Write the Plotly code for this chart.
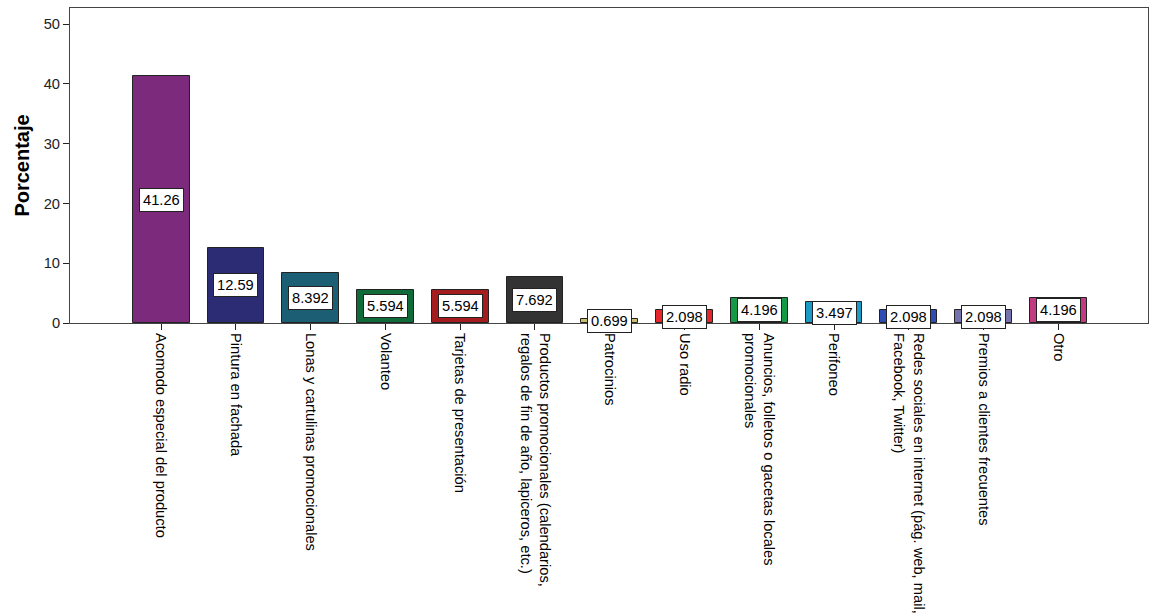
import plotly.graph_objects as go

categories = [
    "Acomodo especial del producto",
    "Pintura en fachada",
    "Lonas y cartulinas promocionales",
    "Volanteo",
    "Tarjetas de presentación",
    "Productos promocionales (calendarios,<br>regalos de fin de año, lapiceros, etc.)",
    "Patrocinios",
    "Uso radio",
    "Anuncios, folletos o gacetas locales<br>promocionales",
    "Perifoneo",
    "Redes sociales en internet (pág. web, mail,<br>Facebook, Twitter)",
    "Premios a clientes frecuentes",
    "Otro",
]
values = [41.26, 12.59, 8.392, 5.594, 5.594, 7.692, 0.699, 2.098, 4.196, 3.497, 2.098, 2.098, 4.196]
value_labels = ["41.26", "12.59", "8.392", "5.594", "5.594", "7.692", "0.699", "2.098", "4.196", "3.497", "2.098", "2.098", "4.196"]
colors = ["#7B2A7C", "#2B2C74", "#1C5F75", "#0F6B37", "#A51C1F", "#333333", "#C8BE6C",
          "#E5262A", "#149A44", "#1C9AC6", "#2F4EB3", "#7473AD", "#C13B80"]
y_ticks = [0, 10, 20, 30, 40, 50]

x = list(range(len(categories)))
FONT = "Liberation Sans, Arial"

fig = go.Figure()
fig.add_trace(go.Bar(
    x=x, y=values, width=0.76,
    marker=dict(color=colors, line=dict(color="#222222", width=1)),
    hoverinfo="skip",
))

for xi, v, t in zip(x, values, value_labels):
    fig.add_annotation(
        x=xi, y=v / 2, text=t, showarrow=False,
        xanchor="center", yanchor="middle",
        bgcolor="white", bordercolor="#222222", borderwidth=1, borderpad=3,
        font=dict(family=FONT, size=14.7, color="black"),
    )

fig.update_layout(
    width=1150, height=613,
    margin=dict(l=70, r=2, t=8, b=290),
    plot_bgcolor="white", paper_bgcolor="white",
    showlegend=False,
    font=dict(family=FONT, size=14.7, color="black"),
    bargap=0,
)
fig.update_xaxes(
    range=[-1.22, 13.2],
    tickmode="array", tickvals=x, ticktext=categories,
    tickangle=90, ticks="outside", ticklen=6, tickcolor="#222222",
    showline=True, linecolor="#444444", linewidth=1, mirror=True,
    showgrid=False, zeroline=False, automargin=False,
    tickfont=dict(family=FONT, size=14.7, color="black"),
)
fig.update_yaxes(
    range=[0, 52.7],
    tickmode="array", tickvals=y_ticks,
    ticks="outside", ticklen=6, tickcolor="#222222",
    showline=True, linecolor="#444444", linewidth=1, mirror=True,
    showgrid=False, zeroline=False, automargin=False,
    title=dict(text="<b>Porcentaje</b>", font=dict(family=FONT, size=20, color="black"), standoff=8),
    tickfont=dict(family=FONT, size=14.7, color="#222222"),
)

fig.write_html("out.html", config={"displayModeBar": False},
               post_script="document.body.style.margin='0';")
